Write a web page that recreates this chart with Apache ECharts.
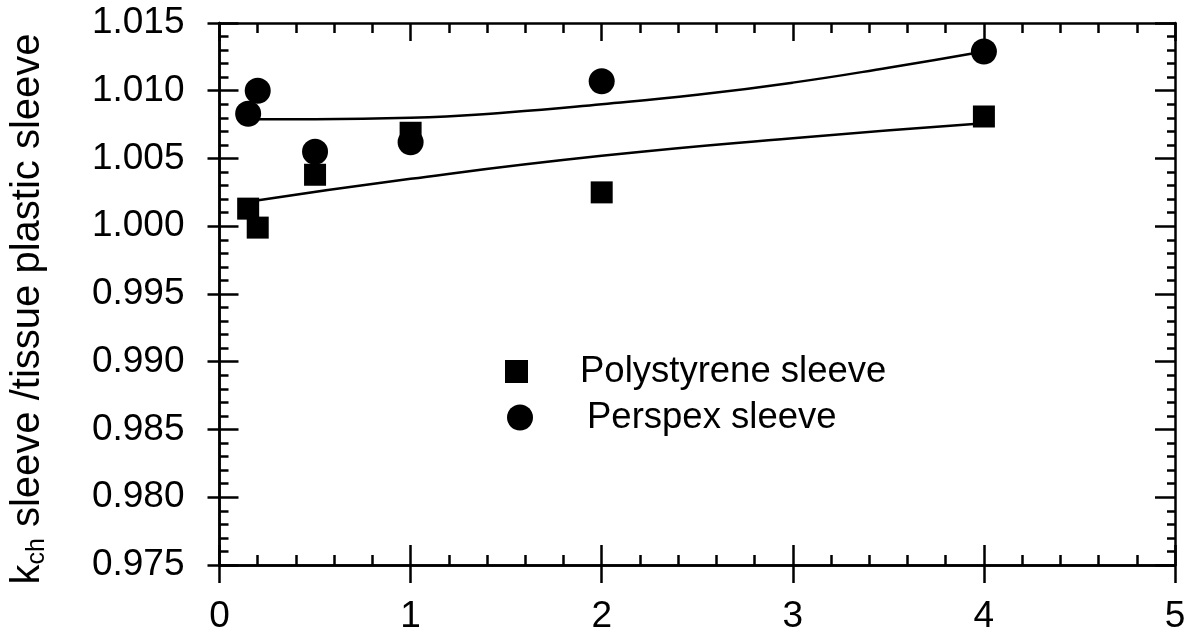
<!DOCTYPE html>
<html>
<head>
<meta charset="utf-8">
<script src="https://cdn.jsdelivr.net/npm/echarts@6/dist/echarts.min.js"></script>
<style>
  html, body { margin: 0; padding: 0; background: #fff; }
  #chart { width: 1193px; height: 640px; }
</style>
</head>
<body>
<div id="chart"></div>
<script>
// Measured points: x position and k_ch ratio
const polystyreneX = [0.15, 0.2, 0.5, 1, 2, 4];
const polystyreneY = [1.0013, 0.9999, 1.0038, 1.0069, 1.0025, 1.0081];
const perspexX = [0.15, 0.2, 0.5, 1, 2, 4];
const perspexY = [1.0083, 1.0100, 1.0055, 1.0062, 1.0107, 1.0129];

// Fitted curves, sampled along x
const polyFitX = [0.15, 1, 2, 3, 4];
const polyFitY = [1.0018, 1.0035, 1.0052, 1.0065, 1.0076];
const perspexFitX = [0.15, 0.5, 1, 1.5, 2, 2.5, 3, 3.5, 4];
const perspexFitY = [1.0079, 1.0079, 1.0080, 1.0084, 1.0090, 1.0097, 1.0106, 1.0117, 1.0129];

// Axis ticks
const xTicks = [0, 1, 2, 3, 4, 5];
const yTicks = ['0.975', '0.980', '0.985', '0.990', '0.995', '1.000', '1.005', '1.010', '1.015'];

const FONT = 'Liberation Sans';
const INK = '#000';
const LW = 2.5;

const pairs = (xs, ys) => xs.map((x, i) => [x, ys[i]]);

const axisLine = { show: true, onZero: false, lineStyle: { color: INK, width: LW } };

const xBase = { type: 'value', min: xTicks[0], max: xTicks[xTicks.length - 1], interval: 1, splitLine: { show: false } };
const yBase = { type: 'value', min: Number(yTicks[0]), max: Number(yTicks[yTicks.length - 1]), interval: 0.005, splitLine: { show: false } };

const chart = echarts.init(document.getElementById('chart'), null, { renderer: 'canvas' });

chart.setOption({
  animation: false,
  backgroundColor: '#fff',
  grid: { left: 213, right: 18, top: 23, bottom: 75, containLabel: false },
  xAxis: [
    Object.assign({}, xBase, {
      position: 'bottom',
      axisLine,
      axisTick: { show: true, inside: true, length: 20, lineStyle: { color: INK, width: LW } },
      minorTick: { show: true, splitNumber: 5, length: 10, lineStyle: { color: INK, width: LW } },
      axisLabel: {
        margin: 33, fontFamily: FONT, fontSize: 37, color: INK,
        formatter: (v) => String(xTicks[Math.round(v)])
      }
    }),
    Object.assign({}, xBase, {
      position: 'bottom',
      axisLine,
      axisTick: { show: true, inside: false, length: 18, lineStyle: { color: INK, width: LW } },
      axisLabel: { show: false }
    }),
    Object.assign({}, xBase, {
      position: 'top',
      axisLine,
      axisTick: { show: true, inside: true, length: 18, lineStyle: { color: INK, width: LW } },
      minorTick: { show: true, splitNumber: 5, length: 10, lineStyle: { color: INK, width: LW } },
      axisLabel: { show: false }
    })
  ],
  yAxis: [
    Object.assign({}, yBase, {
      position: 'left',
      axisLine,
      axisTick: { show: true, inside: true, length: 19, lineStyle: { color: INK, width: LW } },
      minorTick: { show: true, splitNumber: 5, length: 9, lineStyle: { color: INK, width: LW } },
      axisLabel: {
        margin: 35, fontFamily: FONT, fontSize: 37, color: INK,
        formatter: (v) => yTicks[Math.round((v - Number(yTicks[0])) / 0.005)]
      },
      name: '{k|k}{sub|ch}{t| sleeve /tissue plastic sleeve}',
      nameLocation: 'middle',
      nameRotate: 90,
      nameGap: 170,
      nameTextStyle: {
        color: INK,
        fontFamily: FONT,
        padding: [0, 30, 0, 0],
        rich: {
          k: { fontFamily: FONT, fontSize: 40, color: INK },
          sub: { fontFamily: FONT, fontSize: 25, color: INK, padding: [18, 0, 0, 0] },
          t: { fontFamily: FONT, fontSize: 40, color: INK }
        }
      }
    }),
    Object.assign({}, yBase, {
      position: 'left',
      axisLine,
      axisTick: { show: true, inside: false, length: 12, lineStyle: { color: INK, width: LW } },
      axisLabel: { show: false }
    }),
    Object.assign({}, yBase, {
      position: 'right',
      axisLine,
      axisTick: { show: true, inside: true, length: 20, lineStyle: { color: INK, width: LW } },
      minorTick: { show: true, splitNumber: 5, length: 8, lineStyle: { color: INK, width: LW } },
      axisLabel: { show: false }
    })
  ],
  legend: [
    {
      data: [{ name: 'Polystyrene sleeve', icon: 'rect' }],
      left: 500, top: 348,
      itemWidth: 23, itemHeight: 23,
      textStyle: { fontFamily: FONT, fontSize: 36.5, color: INK, padding: [0, 0, 0, 47] },
      selectedMode: false
    },
    {
      data: [{ name: 'Perspex sleeve', icon: 'circle' }],
      left: 502, top: 394,
      itemWidth: 26, itemHeight: 26,
      textStyle: { fontFamily: FONT, fontSize: 36.5, color: INK, padding: [0, 0, 0, 49] },
      selectedMode: false
    }
  ],
  series: [
    {
      name: 'Polystyrene fit', type: 'line', smooth: true, showSymbol: false,
      data: pairs(polyFitX, polyFitY),
      lineStyle: { color: INK, width: LW }, itemStyle: { color: INK }, silent: true
    },
    {
      name: 'Perspex fit', type: 'line', smooth: true, showSymbol: false,
      data: pairs(perspexFitX, perspexFitY),
      lineStyle: { color: INK, width: LW }, itemStyle: { color: INK }, silent: true
    },
    {
      name: 'Polystyrene sleeve', type: 'scatter', symbol: 'rect', symbolSize: 22,
      data: pairs(polystyreneX, polystyreneY),
      itemStyle: { color: INK, opacity: 1 }
    },
    {
      name: 'Perspex sleeve', type: 'scatter', symbol: 'circle', symbolSize: 26,
      data: pairs(perspexX, perspexY),
      itemStyle: { color: INK, opacity: 1 }
    }
  ]
});
</script>
</body>
</html>
